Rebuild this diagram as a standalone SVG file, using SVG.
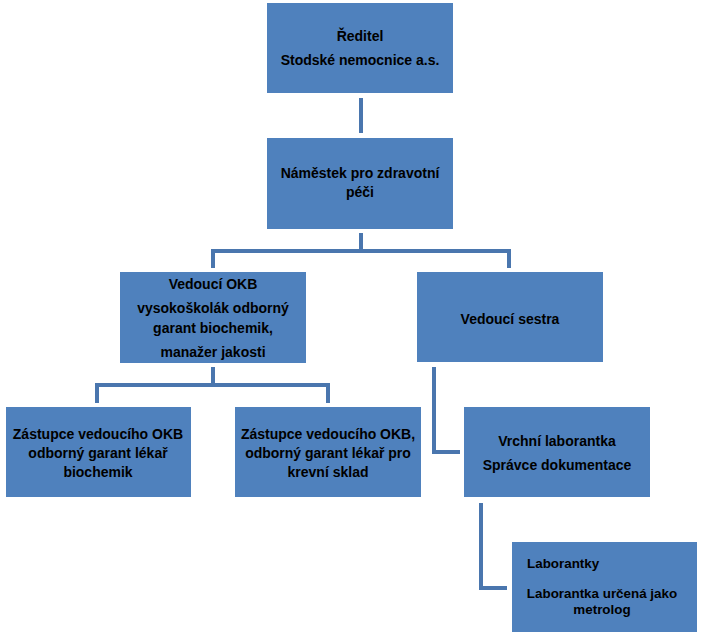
<svg xmlns="http://www.w3.org/2000/svg" width="704" height="635" viewBox="0 0 704 635">
<style>
.box{fill:#4f81bd}
.t{font-family:"Liberation Sans",Arial,sans-serif;font-weight:bold;font-size:14px;fill:#000;text-anchor:middle}
.s{font-size:13.4px}
.c{fill:none;stroke:#4a76ae;stroke-width:4}
</style>
<rect width="704" height="635" fill="#fff"/>
<g id="connectors">
<path class="c" d="M361 98V133"/>
<path class="c" d="M361 233V251M213 268V251H509V268"/>
<path class="c" d="M213 367V385M97 403V385H328V403"/>
<path class="c" d="M434 367V452H460"/>
<path class="c" d="M481 503V588H507"/>
</g>
<g id="n1"><rect class="box" x="267" y="3" width="186" height="90"/>
<text class="t" x="360" y="41">Ředitel</text>
<text class="t" x="360" y="65">Stodské nemocnice a.s.</text></g>
<g id="n2"><rect class="box" x="267" y="138" width="186" height="91"/>
<text class="t" x="360" y="178">Náměstek pro zdravotní</text>
<text class="t" x="360" y="197">péči</text></g>
<g id="n3"><rect class="box" x="120" y="272" width="186" height="91"/>
<text class="t" x="213" y="289">Vedoucí OKB</text>
<text class="t" x="213" y="313">vysokoškolák odborný</text>
<text class="t" x="213" y="333">garant biochemik,</text>
<text class="t" x="213" y="357">manažer jakosti</text></g>
<g id="n4"><rect class="box" x="417" y="272" width="186" height="90"/>
<text class="t" x="510" y="324">Vedoucí sestra</text></g>
<g id="n5"><rect class="box" x="6" y="407" width="185" height="90"/>
<text class="t" x="98" y="439">Zástupce vedoucího OKB</text>
<text class="t" x="98" y="458">odborný garant lékař</text>
<text class="t" x="98" y="477">biochemik</text></g>
<g id="n6"><rect class="box" x="235" y="407" width="186" height="90"/>
<text class="t" x="328" y="439">Zástupce vedoucího OKB,</text>
<text class="t" x="328" y="458">odborný garant lékař pro</text>
<text class="t" x="328" y="477">krevní sklad</text></g>
<g id="n7"><rect class="box" x="464" y="407" width="186" height="90"/>
<text class="t" x="557" y="446">Vrchní laborantka</text>
<text class="t" x="557" y="470">Správce dokumentace</text></g>
<g id="n8"><rect class="box" x="512" y="542" width="185" height="90"/>
<text class="t s" x="527" y="568" style="text-anchor:start">Laborantky</text>
<text class="t s" x="602" y="598">Laborantka určená jako</text>
<text class="t s" x="602" y="614">metrolog</text></g>
</svg>
